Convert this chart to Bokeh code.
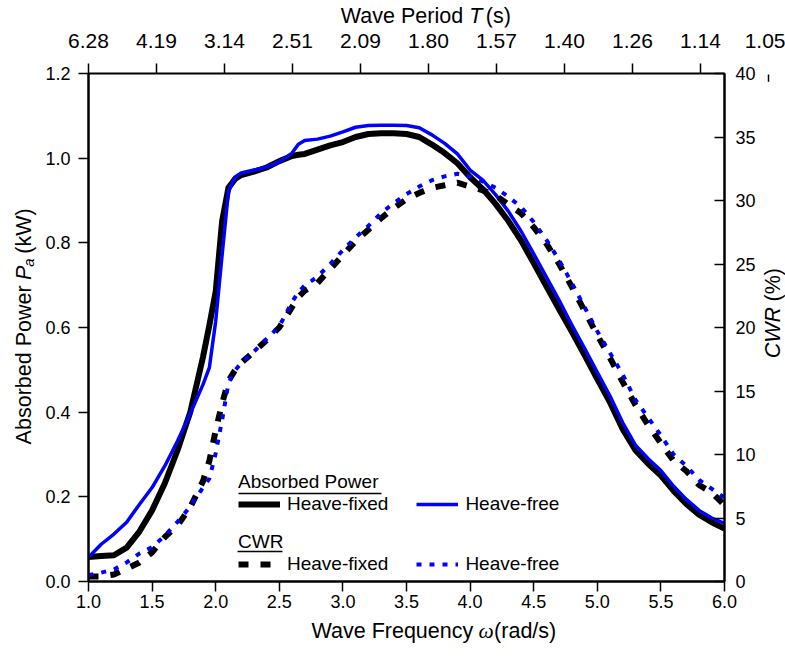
import math
from bokeh.plotting import figure
from bokeh.layouts import column, row
from bokeh.models import (Range1d, LinearAxis, FixedTicker, Legend, LegendItem, Label,
                          BoxAnnotation, NumeralTickFormatter)
from bokeh.embed import file_html
from bokeh.resources import INLINE

# ---------------- data ----------------
omega = [1.0, 1.1, 1.2, 1.3, 1.4, 1.5, 1.6, 1.7, 1.8, 1.9, 1.95, 2.0, 2.05, 2.1, 2.15,
         2.2, 2.3, 2.4, 2.5, 2.6, 2.65, 2.7, 2.8, 2.9, 3.0, 3.1, 3.2, 3.3, 3.4, 3.5,
         3.6, 3.7, 3.8, 3.9, 4.0, 4.1, 4.2, 4.3, 4.4, 4.5, 4.6, 4.7, 4.8, 4.9, 5.0,
         5.1, 5.2, 5.3, 5.4, 5.5, 5.6, 5.7, 5.8, 5.9, 6.0]

power_fixed = [0.058, 0.060, 0.062, 0.080, 0.118, 0.168, 0.232, 0.310, 0.400, 0.530,
               0.605, 0.685, 0.850, 0.930, 0.950, 0.960, 0.968, 0.978, 0.993, 1.005,
               1.008, 1.010, 1.020, 1.030, 1.038, 1.050, 1.057, 1.059, 1.059, 1.057,
               1.050, 1.032, 1.012, 0.988, 0.955, 0.927, 0.892, 0.852, 0.806, 0.752,
               0.697, 0.643, 0.590, 0.535, 0.478, 0.423, 0.360, 0.310, 0.278, 0.250,
               0.214, 0.183, 0.158, 0.140, 0.125]

power_free = [0.057, 0.088, 0.112, 0.140, 0.182, 0.222, 0.273, 0.332, 0.397, 0.465,
              0.505, 0.615, 0.770, 0.920, 0.955, 0.965, 0.972, 0.979, 0.991, 1.012,
              1.033, 1.042, 1.045, 1.052, 1.062, 1.073, 1.077, 1.078, 1.078, 1.077,
              1.072, 1.055, 1.035, 1.010, 0.972, 0.948, 0.914, 0.875, 0.828, 0.774,
              0.719, 0.664, 0.606, 0.551, 0.494, 0.438, 0.375, 0.322, 0.290, 0.262,
              0.225, 0.194, 0.168, 0.150, 0.137]

cwr_fixed = [0.4, 0.4, 0.55, 1.0, 1.5, 2.3, 3.5, 4.4, 5.85, 7.9,
             9.5, 11.9, 14.0, 15.8, 16.6, 17.2, 18.1, 19.0, 20.0, 21.6,
             22.4, 22.9, 23.5, 24.6, 25.7, 26.8, 27.7, 28.6, 29.4, 30.1,
             30.6, 31.0, 31.2, 31.4, 31.1, 30.8, 30.4, 29.7, 29.0, 27.9,
             26.6, 25.0, 23.2, 21.3, 19.4, 17.6, 15.7, 13.9, 12.3, 10.9,
             9.5, 8.7, 7.6, 7.0, 6.0]

cwr_free = [0.5, 0.7, 0.95, 1.5, 2.2, 2.7, 3.6, 4.7, 5.9, 7.4,
            8.1, 10.1, 12.7, 15.6, 16.6, 17.2, 18.1, 19.1, 20.1, 22.0,
            22.8, 23.3, 24.0, 25.0, 26.1, 27.1, 28.0, 29.0, 29.8, 30.5,
            31.1, 31.6, 31.9, 32.1, 31.9, 31.5, 31.0, 30.3, 29.5, 28.3,
            26.9, 25.3, 23.5, 21.6, 19.7, 18.0, 16.3, 14.3, 12.9, 11.5,
            10.0, 9.1, 8.0, 7.3, 6.6]

freq_ticks = [1.0, 1.5, 2.0, 2.5, 3.0, 3.5, 4.0, 4.5, 5.0, 5.5, 6.0]
power_ticks = [0.0, 0.2, 0.4, 0.6, 0.8, 1.0, 1.2]
cwr_ticks = [0, 5, 10, 15, 20, 25, 30, 35, 40]
period_labels = ["6.28", "4.19", "3.14", "2.51", "2.09", "1.80", "1.57",
                 "1.40", "1.26", "1.14", "1.05"]

# ---------------- layout constants (page pixels) ----------------
FONT = "Liberation Sans"
TICK_FS = "18px"
TOP_TICK_FS = "21px"
TFS = 21.5                     # axis-title font size (px)
LEG_FS = "19px"
W, H = 785, 661
FRAME_L, FRAME_R, FRAME_T, FRAME_B = 88, 724, 73, 581
TOP_H = 61                     # strip with period labels + title
BOT_H = 45                     # strip with bottom title
ROW_H = H - TOP_H - BOT_H
LEFT_W = 40                    # strip with left title
RIGHT_W = 27                   # strip with right title
MAIN_W = W - LEFT_W - RIGHT_W
PERIOD_STEP = 68.0
N_PER = len(period_labels)
PERIOD_R = FRAME_L + PERIOD_STEP * (N_PER - 1)

# glyph advance widths (em) for composing mixed-style titles
ADV = {" ": .278, "W": .944, "a": .556, "v": .5, "e": .556, "F": .611, "r": .333,
       "q": .556, "u": .556, "n": .556, "c": .5, "y": .5, "(": .333, ")": .333,
       "d": .556, "/": .278, "s": .5, "P": .667, "i": .222, "o": .556, "A": .667,
       "b": .556, "w": .722, "k": .5, "%": .889, "C": .722, "R": .722, "T": .611}


def tw(text, size):
    return sum(ADV.get(ch, .556) for ch in text) * size


SP = tw(" ", TFS)


def strip(width, height, xr, yr, **kw):
    f = figure(width=width, height=height, x_range=xr, y_range=yr,
               output_backend="svg", toolbar_location=None,
               x_axis_location=None, y_axis_location=None,
               min_border_left=kw.get("bl", 0), min_border_right=kw.get("br", 0),
               min_border_top=kw.get("bt", 0), min_border_bottom=kw.get("bb", 0))
    f.outline_line_color = None
    f.grid.visible = False
    f.background_fill_color = "white"
    f.border_fill_color = "white"
    return f


def lab(fig, text, x, y, size=TFS, font=FONT, style="normal", align="left", angle=0,
        **kw):
    fig.add_layout(Label(x=x, y=y, text=text, text_font=font,
                         text_font_size=f"{size}px", text_font_style=style,
                         text_color="black", text_align=align, text_baseline="middle",
                         angle=angle, **kw))


def style_axis(ax, tin, tout, standoff, fs=TICK_FS):
    ax.axis_line_color = "black"
    ax.axis_line_width = 2
    ax.major_tick_line_color = "black"
    ax.major_tick_line_width = 1.5
    ax.major_tick_in = tin
    ax.major_tick_out = tout
    ax.minor_tick_line_color = None
    ax.major_label_text_font = FONT
    ax.major_label_text_font_size = fs
    ax.major_label_text_color = "black"
    ax.major_label_standoff = standoff


# ---------------- top strip: period labels and title ----------------
TOP_FRAME_H = 27
top_fig = strip(W, TOP_H, Range1d(0, N_PER - 1), Range1d(TOP_FRAME_H, 0),
                bl=FRAME_L, br=int(W - PERIOD_R), bt=0, bb=TOP_H - TOP_FRAME_H)
top_fig.extra_x_ranges = {"px": Range1d(FRAME_L, PERIOD_R)}
top_axis = LinearAxis(ticker=FixedTicker(ticks=list(range(N_PER))),
                      major_label_overrides={i: s for i, s in enumerate(period_labels)})
style_axis(top_axis, 0, 0, 6, TOP_TICK_FS)
top_axis.axis_line_color = None
top_axis.major_tick_line_color = None
top_fig.add_layout(top_axis, "below")

t1, t2, t3 = "Wave Period", "T", "(s)"
tot = tw(t1, TFS) + SP + tw(t2, TFS) + SP * 0.6 + tw(t3, TFS)
tx = (FRAME_L + PERIOD_R) / 2 - tot / 2 + tw(t1, TFS) + SP - 3
lab(top_fig, t1, tx - SP, 15, align="right", x_range_name="px")
lab(top_fig, t2, tx, 15, style="italic", x_range_name="px")
lab(top_fig, t3, tx + tw(t2, TFS) + SP * 0.6, 15, x_range_name="px")

# ---------------- main figure ----------------
BL = FRAME_L - LEFT_W
BR = LEFT_W + MAIN_W - FRAME_R
BT = FRAME_T - TOP_H
BB = TOP_H + ROW_H - FRAME_B
FW = FRAME_R - FRAME_L
FH = FRAME_B - FRAME_T

p = figure(width=MAIN_W, height=ROW_H, x_range=Range1d(1, 6), y_range=Range1d(0, 1.2),
           output_backend="svg", toolbar_location=None,
           x_axis_location=None, y_axis_location=None,
           min_border_left=BL, min_border_right=BR, min_border_top=BT, min_border_bottom=BB)
p.extra_y_ranges = {"cwr": Range1d(0, 40)}
p.extra_x_ranges = {"T": Range1d(0, FW / PERIOD_STEP)}
p.grid.visible = False
p.outline_line_color = "black"
p.outline_line_width = 2

n_in = int(math.floor(FW / PERIOD_STEP)) + 1
top_ticks = LinearAxis(x_range_name="T", ticker=FixedTicker(ticks=list(range(n_in))),
                       major_label_overrides={i: "" for i in range(n_in)})
style_axis(top_ticks, 0, 10, 0)
top_ticks.axis_line_color = None
top_ticks.major_label_text_font_size = "1px"
p.add_layout(top_ticks, "above")

bottom = LinearAxis(ticker=FixedTicker(ticks=freq_ticks),
                    formatter=NumeralTickFormatter(format="0.0"))
style_axis(bottom, 0, 10, 3)
p.add_layout(bottom, "below")

left = LinearAxis(ticker=FixedTicker(ticks=power_ticks),
                  formatter=NumeralTickFormatter(format="0.0"))
style_axis(left, 0, 10, 8)
p.add_layout(left, "left")

right = LinearAxis(y_range_name="cwr", ticker=FixedTicker(ticks=cwr_ticks))
style_axis(right, 10, 0, 11)
p.add_layout(right, "right")

# ---------------- curves ----------------
r_pf = p.line(omega, power_fixed, line_color="black", line_width=6, line_join="round")
r_pv = p.line(omega, power_free, line_color="#0000ff", line_width=3.5, line_join="round")
r_cf = p.line(omega, cwr_fixed, y_range_name="cwr", line_color="black", line_width=6,
              line_dash="10 12", line_cap="butt")
r_cv = p.line(omega, cwr_free, y_range_name="cwr", line_color="#0000ff", line_width=4,
              line_dash="5 8", line_cap="butt")


# ---------------- legends ----------------
def make_legend(title, items, loc):
    lg = Legend(items=items, location=loc, orientation="horizontal",
                title=title, title_text_font=FONT, title_text_font_size=LEG_FS,
                title_text_font_style="normal", title_text_color="black", title_standoff=0,
                label_text_font=FONT, label_text_font_size=LEG_FS,
                label_text_color="black", glyph_width=42, glyph_height=20,
                label_height=20, label_standoff=7, spacing=28, padding=0, margin=0,
                border_line_color=None, background_fill_alpha=0)
    p.add_layout(lg, "center")
    return lg


make_legend("Absorbed Power",
            [LegendItem(label="Heave-fixed", renderers=[r_pf]),
             LegendItem(label="Heave-free", renderers=[r_pv])], (150, 66))
make_legend("CWR",
            [LegendItem(label="Heave-fixed", renderers=[r_cf]),
             LegendItem(label="Heave-free", renderers=[r_cv])], (150, 6))


def px2x(px):
    return 1 + (px - FRAME_L) / FW * 5


def py2y(py):
    return (FRAME_B - py) / FH * 1.2


for x0, x1, yy in [(238, 381, 493), (237, 282, 551)]:
    p.add_layout(BoxAnnotation(left=px2x(x0), right=px2x(x1), top=py2y(yy - 0.7),
                               bottom=py2y(yy + 0.7), fill_color="black", fill_alpha=1,
                               line_color=None))

# ---------------- left strip: Absorbed Power P_a (kW) ----------------
left_fig = strip(LEFT_W, ROW_H, Range1d(0, LEFT_W), Range1d(TOP_H + ROW_H, TOP_H))
A = math.pi / 2
SUB = 15
l1, l2, l3, l4 = "Absorbed Power", "P", "a", "(kW)"
ltot = tw(l1, TFS) + SP + tw(l2, TFS) + tw(l3, SUB) + SP + tw(l4, TFS)
LX, LCY = 23, 332
ly = LCY + ltot / 2 - tw(l1, TFS) - SP          # page y where "P" starts
lab(left_fig, l1, LX, ly + SP, align="right", angle=A)
lab(left_fig, l2, LX, ly, style="italic", angle=A)
lab(left_fig, l3, LX + 5, ly - tw(l2, TFS), size=SUB, style="italic", angle=A)
lab(left_fig, l4, LX, ly - tw(l2, TFS) - tw(l3, SUB) - SP, angle=A)

# ---------------- right strip: CWR (%) and last period tick ----------------
rx0 = LEFT_W + MAIN_W
right_fig = strip(RIGHT_W, ROW_H, Range1d(rx0, W), Range1d(TOP_H + ROW_H, TOP_H))
r1, r2 = "CWR", "(%)"
RX, RCY = 772, 322
rtot = tw(r1, TFS) + SP + tw(r2, TFS)
ry = RCY + rtot / 2 - tw(r1, TFS)               # page y where "CWR" ends
lab(right_fig, r1, RX, ry, style="italic", align="right", angle=A)
lab(right_fig, r2, RX, ry - SP, angle=A)
right_fig.segment(x0=[PERIOD_R], y0=[FRAME_T - 11], x1=[PERIOD_R], y1=[FRAME_T - 3],
                  line_color="black", line_width=1.5)

# ---------------- bottom strip: Wave Frequency ω (rad/s) ----------------
bot_fig = strip(W, BOT_H, Range1d(0, W), Range1d(H, H - BOT_H))
b1, b2, b3 = "Wave Frequency", "\u03c9", "(rad/s)"
OMEGA_W = 0.62 * TFS
btot = tw(b1, TFS) + SP + OMEGA_W + SP * 0.8 + tw(b3, TFS)
bx = (FRAME_L + FRAME_R) / 2 - btot / 2 + tw(b1, TFS) + SP
BY = 630
lab(bot_fig, b1, bx - SP, BY, align="right")
lab(bot_fig, b2, bx, BY, font="Liberation Serif", style="italic")
lab(bot_fig, b3, bx + OMEGA_W + SP * 0.8, BY)

layout = column(top_fig, row(left_fig, p, right_fig, spacing=0), bot_fig, spacing=0)
open("out.html", "w").write(file_html(layout, INLINE))
